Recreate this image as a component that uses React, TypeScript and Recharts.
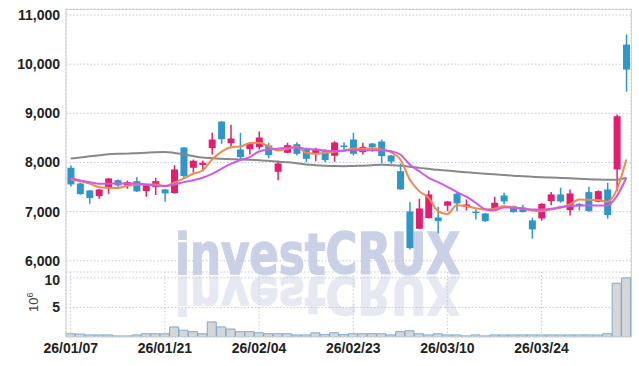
import React from 'react';
import { ComposedChart, Bar, Line, XAxis, YAxis, CartesianGrid } from 'recharts';

const dates = [
  '26/01/07','26/01/08','26/01/09','26/01/12','26/01/13','26/01/14','26/01/15','26/01/16','26/01/19','26/01/20',
  '26/01/21','26/01/22','26/01/23','26/01/26','26/01/27','26/01/28','26/01/29','26/01/30','26/02/02','26/02/03',
  '26/02/04','26/02/05','26/02/06','26/02/09','26/02/10','26/02/11','26/02/12','26/02/13','26/02/19','26/02/20',
  '26/02/23','26/02/24','26/02/25','26/02/26','26/02/27','26/03/03','26/03/04','26/03/05','26/03/06','26/03/09',
  '26/03/10','26/03/11','26/03/12','26/03/13','26/03/16','26/03/17','26/03/18','26/03/19','26/03/20','26/03/23',
  '26/03/24','26/03/25','26/03/26','26/03/27','26/03/30','26/03/31','26/04/01','26/04/02','26/04/03','26/04/06',
];

const opens = [
  7892,7573,7431,7315,7478,7640,7533,7620,7417,7498,
  7451,7376,8305,7892,7950,8291,8833,8392,8264,8270,
  8311,8345,7811,8197,8372,8264,8189,8230,8136,8345,
  8467,8210,8386,8427,8142,7823,7004,6652,6868,6882,
  7120,7364,7092,7000,6963,7030,7329,7112,7085,6821,
  6862,7214,7350,7030,7160,7397,7201,7451,7858,10398,
];
const closes = [
  7553,7356,7275,7451,7675,7533,7600,7411,7547,7620,
  7370,7858,7722,8035,7995,8467,8474,8488,8108,8392,
  8508,8148,7980,8352,8176,8075,8278,8047,8407,8325,
  8176,8318,8311,8129,8020,7451,6258,7065,7350,6807,
  7207,7167,7146,6990,6807,7180,7207,6990,6990,6638,
  7160,7350,7207,7370,7112,7010,7417,6930,8941,9890,
];
const highs = [
  7939,7585,7440,7460,7685,7655,7634,7701,7560,7689,
  7460,7946,8315,8061,8041,8604,8840,8766,8604,8410,
  8630,8400,8041,8400,8413,8298,8298,8264,8433,8413,
  8604,8400,8395,8467,8150,7980,7193,7262,7431,7100,
  7215,7397,7248,7045,6970,7303,7384,7125,7140,6876,
  7170,7397,7486,7451,7170,7506,7431,7587,8976,10602,
];
const lows = [
  7512,7345,7161,7262,7364,7506,7465,7397,7303,7336,
  7201,7370,7681,7791,7823,8163,8380,8325,8061,8163,
  8264,8087,7640,8190,8142,8007,8027,8007,8014,8230,
  8142,8163,8217,7980,7974,7445,6232,6645,6860,6557,
  7010,7010,7025,6841,6787,7025,7146,6980,6985,6449,
  6815,7132,7180,6923,7025,7000,7190,6856,7417,9437,
];
const ma5 = [
  7654,7620,7573,7498,7486,7480,7526,7547,7553,7553,
  7519,7587,7675,7770,7837,8061,8217,8311,8325,8392,
  8400,8331,8244,8278,8318,8197,8176,8197,8217,8240,
  8278,8278,8291,8264,8210,8061,7654,7417,7282,7010,
  6949,7132,7112,7071,7045,7058,7112,7092,7058,7025,
  7010,7045,7078,7146,7248,7240,7235,7201,7451,8061,
];
const ma20 = [
  7689,7634,7600,7567,7567,7573,7573,7573,7553,7533,
  7519,7553,7600,7640,7689,7770,7872,7973,8047,8108,
  8224,8264,8278,8298,8305,8278,8264,8244,8230,8240,
  8257,8250,8250,8250,8230,8163,7960,7823,7689,7600,
  7506,7397,7303,7180,7050,7025,7085,7078,7058,7045,
  7045,7058,7092,7112,7126,7126,7126,7126,7316,7689,
];
const ma120 = [
  8080,8100,8125,8145,8165,8175,8180,8190,8200,8210,
  8215,8195,8165,8130,8100,8090,8075,8068,8062,8055,
  8045,8035,8015,8005,7985,7960,7945,7935,7928,7925,
  7930,7935,7945,7952,7945,7935,7915,7890,7870,7850,
  7835,7815,7800,7785,7770,7760,7745,7730,7720,7710,
  7700,7692,7685,7678,7670,7660,7652,7648,7650,7690,
];
const volumes = [
  0.55,0.5,0.35,0.35,0.35,0.18,0.18,0.35,0.55,0.55,
  0.55,1.7,1.15,0.9,0.55,2.55,1.7,1.35,0.9,0.9,
  0.72,0.55,0.55,0.55,0.35,0.35,0.7,0.4,0.72,0.4,
  0.55,0.55,0.55,0.55,0.35,0.9,1.05,0.55,0.35,0.55,
  0.35,0.35,0.18,0.35,0.18,0.35,0.35,0.35,0.35,0.35,
  0.35,0.35,0.35,0.35,0.35,0.35,0.35,0.55,9.1,10.0,
];
const tickDates = ['26/01/07','26/01/21','26/02/04','26/02/23','26/03/10','26/03/24'];
const priceTicks = [6000, 7000, 8000, 9000, 10000, 11000];
const volumeTicks = [5, 10];

const data = dates.map((date, i) => ({
  date,
  open: opens[i],
  close: closes[i],
  high: highs[i],
  low: lows[i],
  ma5: ma5[i],
  ma20: ma20[i],
  ma120: ma120[i],
  vol: volumes[i],
}));

const UP = '#e41e6e';
const DOWN = '#2e97c8';

const Candle = (props: any) => {
  const { x, y, width, height, payload } = props;
  if (!payload || height == null) return null;
  const { open, close, high, low } = payload;
  const up = close >= open;
  const color = up ? UP : DOWN;
  const ratio = height / (high - low);
  const top = y + (high - Math.max(open, close)) * ratio;
  const bodyH = Math.max(1.5, Math.abs(open - close) * ratio);
  const cx = x + width / 2;
  const bw = 7;
  return (
    <g>
      <line x1={cx} x2={cx} y1={y} y2={y + height} stroke={color} strokeWidth={1.5} />
      <rect x={cx - bw / 2} y={top} width={bw} height={bodyH} fill={color} />
    </g>
  );
};

const tickFont = {
  fill: '#222',
  fontSize: 14,
  fontWeight: 700,
  fontFamily: "'Liberation Sans Narrow', 'Liberation Sans', Arial, sans-serif",
};

export default function App() {
  return (
    <div style={{ position: 'absolute', left: 0, top: 0, width: 639, height: 366, background: '#fff' }}>
      <svg width={639} height={366} style={{ position: 'absolute', left: 0, top: 0 }}>
        <text
          x={175}
          y={274}
          fontFamily="'DejaVu Sans', sans-serif"
          fontWeight="bold"
          fontSize={57}
          fill="#cad1e7"
          stroke="#cad1e7"
          strokeWidth={1.5}
          textLength={285}
          lengthAdjust="spacingAndGlyphs"
        >
          investCRUX
        </text>
        <g transform="translate(0 277) scale(1 -0.9) translate(0 -274)">
          <text
            x={175}
            y={274}
            fontFamily="'DejaVu Sans', sans-serif"
            fontWeight="bold"
            fontSize={57}
            fill="#e7e9f2"
            stroke="#e7e9f2"
            strokeWidth={1.5}
            textLength={285}
            lengthAdjust="spacingAndGlyphs"
          >
            investCRUX
          </text>
        </g>
        <text
          transform="translate(38 312) rotate(-90)"
          fontFamily="'Liberation Sans', Arial, sans-serif"
          fontSize={13}
          fill="#444"
        >
          10<tspan dy={-5} fontSize={9}>6</tspan>
        </text>
      </svg>
      <div
        style={{
          position: 'absolute',
          left: 66,
          top: 9,
          width: 566,
          height: 328,
          boxSizing: 'border-box',
          borderTop: '1px solid #d4d4d4',
          borderRight: '1px solid #d4d4d4',
        }}
      />
      <div style={{ position: 'absolute', left: 0, top: 0 }}>
        <ComposedChart width={639} height={272} data={data} margin={{ top: 9, right: 8, bottom: 0, left: 0 }}>
          <CartesianGrid stroke="#c6c9db" strokeDasharray="1.5 2" />
          <XAxis
            dataKey="date"
            ticks={tickDates}
            interval={0}
            tick={false}
            tickLine={false}
            axisLine={{ stroke: '#cfcfcf' }}
            height={0}
          />
          <YAxis
            domain={[5772, 11122]}
            ticks={priceTicks}
            allowDataOverflow
            width={66}
            tickSize={0}
            tickMargin={6}
            tickLine={false}
            axisLine={{ stroke: '#cfcfcf' }}
            tick={tickFont}
            tickFormatter={(v: number) => v.toLocaleString('en-US')}
          />
          <Bar dataKey={(d: any) => [d.low, d.high]} shape={Candle} isAnimationActive={false} />
          <Line type="monotone" dataKey="ma120" stroke="#888888" strokeWidth={2} dot={false} isAnimationActive={false} />
          <Line type="monotone" dataKey="ma5" stroke="#ef8a50" strokeWidth={2} dot={false} isAnimationActive={false} />
          <Line type="monotone" dataKey="ma20" stroke="#d05ae6" strokeWidth={2} dot={false} isAnimationActive={false} />
        </ComposedChart>
      </div>
      <div style={{ position: 'absolute', left: 0, top: 272 }}>
        <ComposedChart
          width={639}
          height={94}
          data={data}
          barCategoryGap={0}
          margin={{ top: 0, right: 8, bottom: 0, left: 0 }}
        >
          <CartesianGrid stroke="#c6c9db" strokeDasharray="1.5 2" />
          <XAxis
            dataKey="date"
            ticks={tickDates}
            interval={0}
            tickLine={false}
            tickSize={0}
            tickMargin={6}
            axisLine={{ stroke: '#dddddd' }}
            height={29}
            tick={tickFont}
          />
          <YAxis
            domain={[0, 11]}
            ticks={volumeTicks}
            allowDataOverflow
            width={66}
            tickSize={0}
            tickMargin={6}
            tickLine={false}
            axisLine={{ stroke: '#cfcfcf' }}
            tick={tickFont}
          />
          <Bar dataKey="vol" fill="#d6d6d6" stroke="#7ea9cf" strokeWidth={1} isAnimationActive={false} />
        </ComposedChart>
      </div>
    </div>
  );
}
